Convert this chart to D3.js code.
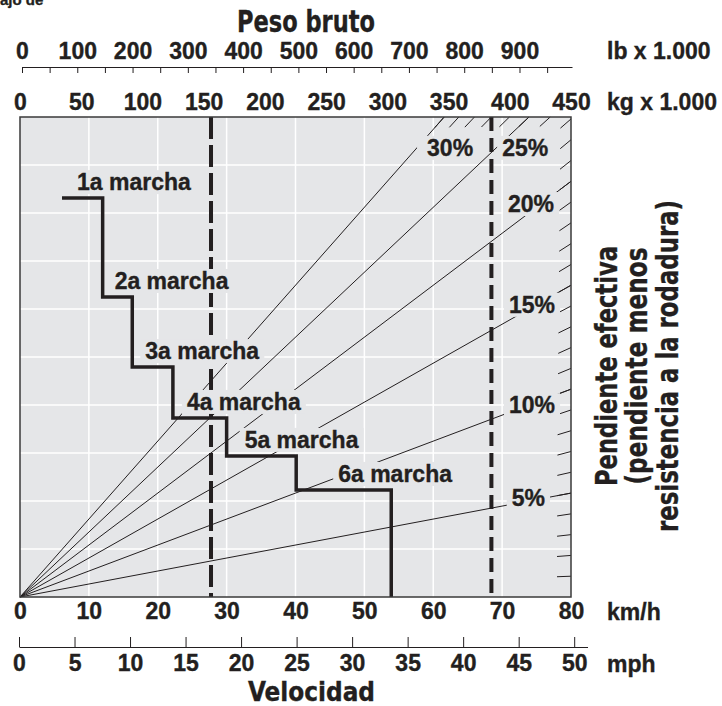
<!DOCTYPE html>
<html>
<head>
<meta charset="utf-8">
<script src="https://cdn.jsdelivr.net/npm/d3@7"></script>
<style>
  body { margin: 0; background: #fff; }
  text { font-family: "Liberation Sans", Arial, sans-serif; font-weight: bold; fill: #231f20; stroke: #231f20; stroke-width: 0.35px; }
  .cond { font-family: "Liberation Sans Narrow", "DejaVu Sans Condensed", "Liberation Sans", sans-serif; font-stretch: condensed; }
</style>
</head>
<body>
<div class="chart"></div>
<script>
// axis ticks
const kmhTicks = [0, 10, 20, 30, 40, 50, 60, 70, 80];
const mphTicks = [0, 5, 10, 15, 20, 25, 30, 35, 40, 45, 50];
const kgTicks = [0, 50, 100, 150, 200, 250, 300, 350, 400, 450];
const lbTicks = [0, 50, 100, 150, 200, 250, 300, 350, 400, 450, 500, 550, 600, 650, 700, 750, 800, 850, 900, 950];

// grade lines (%)
const grades = [1, 2, 3, 4, 5, 6, 7, 8, 9, 10, 11, 12, 13, 14, 15, 16, 17, 18, 19, 20, 21, 22, 23, 24, 25, 26, 27, 28, 29, 30];
const labelledGrades = [5, 10, 15, 20, 25, 30];
const gradeLabelSpeed = [71.4, 71.0, 71.0, 70.85, 70.0, 59.1];
const gradeLabelLevel = [1.9, 3.83, 5.92, 8.02, 9.19, 9.19];

// gears: step line, speed breakpoints (km/h) and level (grid units)
const gearNames = ["1a marcha", "2a marcha", "3a marcha", "4a marcha", "5a marcha", "6a marcha"];
const gearSpeed = [6.1, 12.0, 16.3, 22.2, 30.0, 40.1, 53.9];
const gearLevel = [8.31, 6.25, 4.79, 3.73, 2.94, 2.23, 0];

// gross weight marks (kg x 1.000)
const weightMarks = [156, 385];

const W = 722, H = 706;
const pL = 20, pR = 571, pT = 117, pB = 597;
const bg = "#e5e6e8", ink = "#231f20";
const fs = 23;

const svg = d3.select(".chart").append("svg")
  .attr("width", W).attr("height", H);

const x = d3.scaleLinear().domain([0, 80]).range([pL, pR]);
const xKg = d3.scaleLinear().domain([0, 450]).range([pL, pR]);
const xLb = d3.scaleLinear().domain([0, 995]).range([22, 572]);
const xMph = d3.scaleLinear().domain([0, 51.2]).range([19, x(51.2 * 1.609344)]);
const y = d3.scaleLinear().domain([0, 10]).range([pB, pT]);

// plot background
svg.append("rect")
  .attr("x", pL).attr("y", pT)
  .attr("width", pR - pL).attr("height", pB - pT)
  .attr("fill", bg);

// white grid
const grid = svg.append("g").attr("stroke", "#fff").attr("stroke-width", 1.5);
grid.selectAll(".gv").data(kmhTicks.slice(1, -1)).join("line")
  .attr("x1", d => x(d)).attr("x2", d => x(d))
  .attr("y1", pT).attr("y2", pB);
grid.selectAll(".gh").data(d3.range(1, 10)).join("line")
  .attr("x1", pL).attr("x2", pR)
  .attr("y1", d => y(d)).attr("y2", d => y(d));

// grade lines: slope so that 1 % rises 0.433 grid units at the right edge
const edgeRise = 0.433;
function gradeEnd(g) {
  const r = g * edgeRise;
  return r <= 10 ? [xKg(450), y(r)] : [xKg(450 * 10 / r), y(10)];
}
const o = [xKg(0), y(0)];
const gl = svg.append("g").attr("stroke", ink).attr("stroke-width", 1);
gl.selectAll(".tick").data(grades).join("line")
  .each(function(g) {
    const e = gradeEnd(g);
    const dx = e[0] - o[0], dy = e[1] - o[1];
    const len = Math.hypot(dx, dy);
    d3.select(this)
      .attr("x1", e[0] - 14 * dx / len).attr("y1", e[1] - 14 * dy / len)
      .attr("x2", e[0]).attr("y2", e[1]);
  });
gl.selectAll(".full").data(labelledGrades).join("line")
  .attr("x1", o[0]).attr("y1", o[1])
  .attr("x2", d => gradeEnd(d)[0]).attr("y2", d => gradeEnd(d)[1]);

// dashed weight lines
svg.selectAll(".wl").data(weightMarks).join("line")
  .attr("x1", d => xKg(d)).attr("x2", d => xKg(d))
  .attr("y1", pT).attr("y2", pB)
  .attr("stroke", ink).attr("stroke-width", 4)
  .attr("stroke-dasharray", (d, i) => i == 0 ? "22,6" : "14,7");

// labels with a knockout box behind
function knockLabel(px, py, txt, padL) {
  const g = svg.append("g");
  const t = g.append("text").attr("x", px).attr("y", py)
    .attr("font-size", fs).text(txt);
  const b = t.node().getBBox();
  g.insert("rect", "text")
    .attr("x", b.x - padL).attr("y", b.y + 1)
    .attr("width", b.width + padL + 5).attr("height", b.height - 2)
    .attr("fill", bg);
}
labelledGrades.forEach((g, i) => {
  knockLabel(x(gradeLabelSpeed[i]), y(gradeLabelLevel[i]), g + "%", g == 30 ? 10 : 5);
});
const gearLabelDx = [15, 12, 13, 14, 18, 42];
gearNames.forEach((n, i) => {
  knockLabel(x(gearSpeed[i]) + gearLabelDx[i], y(gearLevel[i]) - 8, n, 5);
});

// gear step line
const step = d3.line()
  .x((d, i) => x(gearSpeed[i]))
  .y(d => y(d))
  .curve(d3.curveStepAfter);
svg.append("path")
  .attr("d", step(gearLevel))
  .attr("fill", "none")
  .attr("stroke", ink)
  .attr("stroke-width", 3.5)
  .attr("stroke-linejoin", "miter");

// frame
svg.append("rect")
  .attr("x", pL).attr("y", pT)
  .attr("width", pR - pL).attr("height", pB - pT)
  .attr("fill", "none").attr("stroke", "#3a3a3a").attr("stroke-width", 1.5);

// axes
function styleAxis(g) {
  g.selectAll("text").attr("font-size", fs).attr("fill", ink)
    .attr("font-family", "Liberation Sans, Arial, sans-serif").attr("font-weight", "bold");
  g.selectAll("line").attr("stroke", ink);
  g.select(".domain").attr("stroke", ink);
}

svg.append("g")
  .attr("transform", "translate(0," + pB + ")")
  .call(d3.axisBottom(x).tickValues(kmhTicks).tickSize(0).tickPadding(6))
  .call(styleAxis)
  .call(g => g.select(".domain").remove());

svg.append("g")
  .attr("transform", "translate(0,647)")
  .call(d3.axisBottom(xMph).tickValues(mphTicks).tickSizeInner(-10).tickSizeOuter(0).tickPadding(8))
  .call(styleAxis);

svg.append("g")
  .attr("transform", "translate(0," + pT + ")")
  .call(d3.axisTop(xKg).tickValues(kgTicks).tickSize(0).tickPadding(7))
  .call(styleAxis)
  .call(g => g.select(".domain").remove());

svg.append("g")
  .attr("transform", "translate(0,67)")
  .call(d3.axisTop(xLb).tickValues(lbTicks).tickSizeInner(-6).tickSizeOuter(0).tickPadding(8)
    .tickFormat(d => d % 100 == 0 ? d : ""))
  .call(styleAxis);

// units
const units = [["lb x 1.000", 59], ["kg x 1.000", 110], ["km/h", 620], ["mph", 672]];
svg.selectAll(".unit").data(units).join("text")
  .attr("x", 607).attr("y", d => d[1])
  .attr("font-size", fs).text(d => d[0]);

// titles
svg.append("text").attr("class", "cond")
  .attr("x", 237).attr("y", 32).attr("font-size", 31)
  .attr("textLength", 138).attr("lengthAdjust", "spacingAndGlyphs")
  .text("Peso bruto");
svg.append("text").attr("class", "cond")
  .attr("x", 248).attr("y", 701).attr("font-size", 27)
  .attr("textLength", 127).attr("lengthAdjust", "spacingAndGlyphs")
  .text("Velocidad");

const sideTitle = [["Pendiente efectiva", 617, 240], ["(pendiente menos", 647, 237], ["resistencia a la rodadura)", 678, 332]];
sideTitle.forEach(d => {
  svg.append("text").attr("class", "cond")
    .attr("transform", "translate(" + d[1] + ",366) rotate(-90)")
    .attr("text-anchor", "middle").attr("font-size", 31)
    .attr("textLength", d[2]).attr("lengthAdjust", "spacingAndGlyphs")
    .text(d[0]);
});

// cut-off caption at the top edge
svg.append("text").attr("x", 0).attr("y", 5).attr("font-size", 15).text("ajo de");
</script>
</body>
</html>
